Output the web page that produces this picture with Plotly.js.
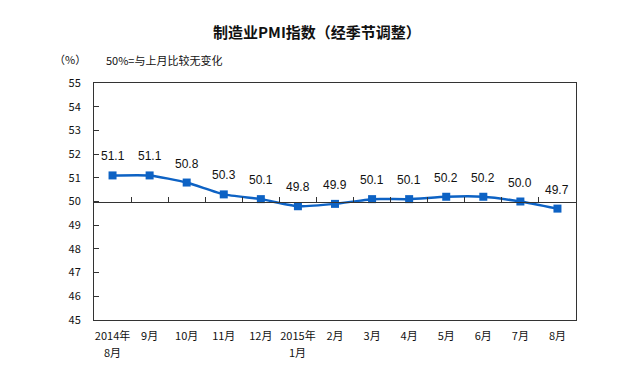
<!DOCTYPE html>
<html><head><meta charset="utf-8">
<script src="https://cdn.plot.ly/plotly-3.0.1.min.js"></script>
<style>html,body{margin:0;padding:0;background:#fff}#c{width:634px;height:381px}</style>
</head><body><div id="c"></div>
<script>
const categories = ['2014年<br>8月','9月','10月','11月','12月','2015年<br>1月','2月','3月','4月','5月','6月','7月','8月'];
const pmi = [51.1,51.1,50.8,50.3,50.1,49.8,49.9,50.1,50.1,50.2,50.2,50.0,49.7];
const yTicks = [45,46,47,48,49,50,51,52,53,54,55];

const idx = categories.map((_, i) => i);
const boundaries = idx.slice(0, -1).map(i => i + 0.5);
const firstLines = categories.map(c => c.split('<br>')[0]);
const lineColor = '#0d62c4';
const cjk = '"Noto Sans CJK SC", "DejaVu Sans", sans-serif';

const traces = [
  {x: idx, y: pmi, type: 'scatter', mode: 'lines+markers',
   line: {color: lineColor, width: 2.5, shape: 'spline', smoothing: 0.5},
   marker: {symbol: 'square', size: 8, color: lineColor},
   hoverinfo: 'none', cliponaxis: false},
  {x: [0], y: [null], xaxis: 'x2', type: 'scatter', mode: 'markers', showlegend: false, hoverinfo: 'none'}
];

const annotations = pmi.map((v, i) => ({
  x: i, y: v, xref: 'x', yref: 'y', text: v.toFixed(1), showarrow: false,
  yshift: 19, font: {family: '"Liberation Sans", Arial, sans-serif', size: 12, color: '#111'}
}));
categories.forEach((c, i) => {
  const parts = c.split('<br>');
  if (parts.length > 1) {
    annotations.push({x: i, xref: 'x', yref: 'paper', y: 0, yanchor: 'middle', yshift: -32,
      text: parts[1], showarrow: false, font: {family: cjk, size: 11, color: '#111'}});
  }
});
annotations.push({xref: 'paper', yref: 'paper', x: -0.05, y: 1.1, xanchor: 'center', yanchor: 'middle',
  text: '（%）', showarrow: false, font: {family: cjk, size: 11, color: '#111'}});
annotations.push({xref: 'paper', yref: 'paper', x: 0.02, y: 1.095, xanchor: 'left', yanchor: 'middle',
  text: '50%=与上月比较无变化', showarrow: false, font: {family: cjk, size: 11, color: '#111'}});

const layout = {
  width: 634, height: 381,
  margin: {l: 94, r: 58, t: 83, b: 61},
  paper_bgcolor: '#fff', plot_bgcolor: '#fff',
  showlegend: false,
  title: {text: '<b>制造业PMI指数（经季节调整）</b>', x: 0.5, xanchor: 'center', y: 0.913, yanchor: 'middle',
          font: {family: cjk, size: 15, color: '#111'}},
  xaxis: {range: [-0.5, categories.length - 0.5], tickvals: idx, ticktext: firstLines,
          ticks: '', showgrid: false, zeroline: false, showline: true, mirror: true,
          linecolor: '#333', linewidth: 1, tickfont: {family: cjk, size: 11, color: '#111'},
          ticklabelstandoff: 6},
  xaxis2: {overlaying: 'x', anchor: 'free', position: 0.5, range: [-0.5, categories.length - 0.5],
           tickvals: boundaries, ticks: 'inside', ticklen: 5, tickcolor: '#333', showticklabels: false,
           showgrid: false, zeroline: false, showline: true, linecolor: '#333', linewidth: 1},
  yaxis: {range: [45, 55], tickvals: yTicks, ticks: 'inside', ticklen: 5, tickcolor: '#333',
          showgrid: false, zeroline: false, showline: true, mirror: true, linecolor: '#333', linewidth: 1,
          tickfont: {family: cjk, size: 11, color: '#111'}, ticklabelstandoff: 10},
  annotations: annotations
};

Plotly.newPlot('c', traces, layout, {staticPlot: true, displayModeBar: false});
</script></body></html>
